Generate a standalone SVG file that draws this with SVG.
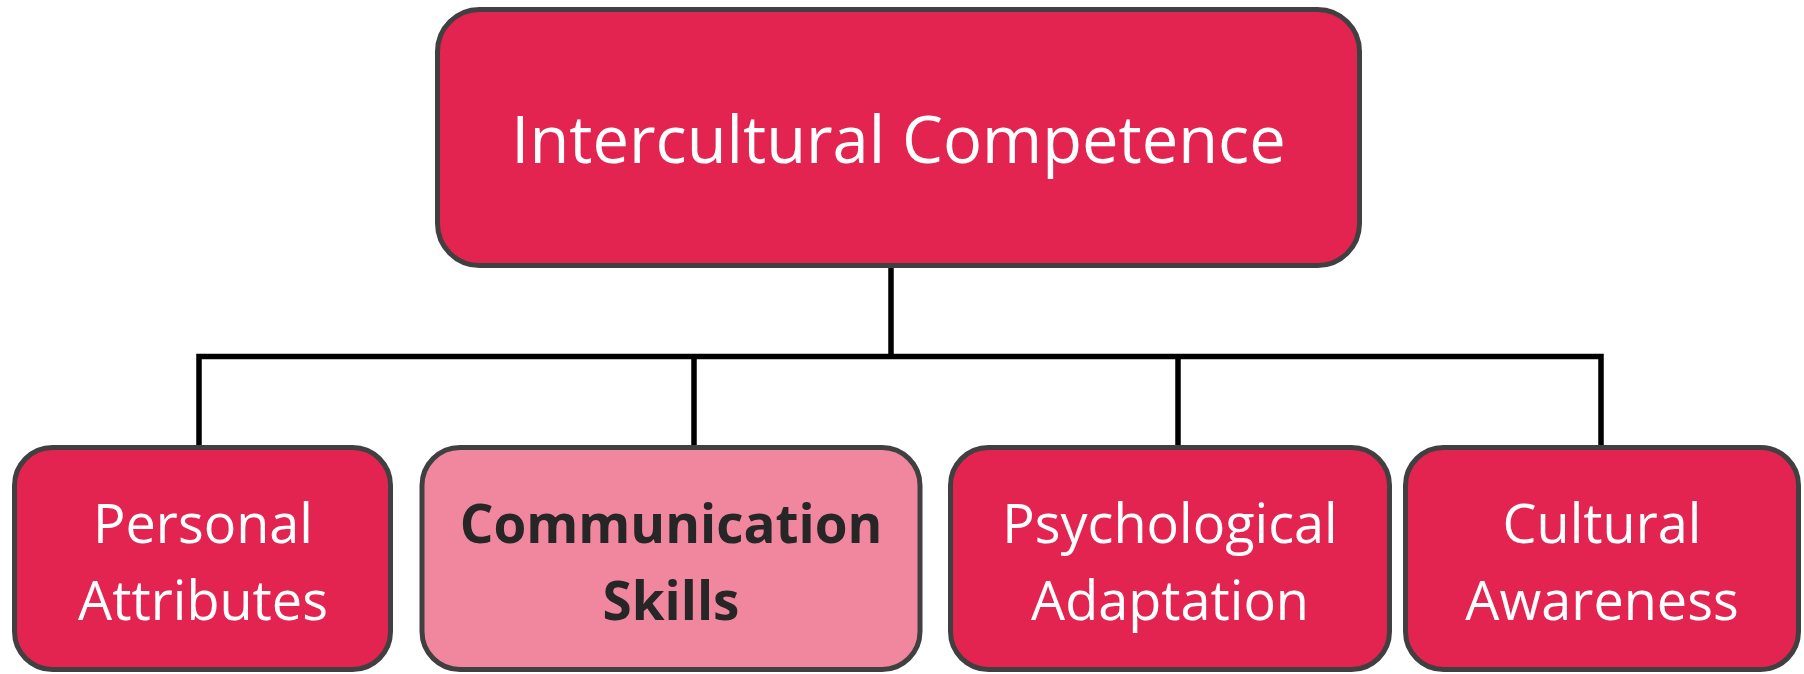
<svg xmlns="http://www.w3.org/2000/svg" width="1804" height="674" viewBox="0 0 1804 674">
<style>
.box{fill:#E32451;stroke:#404040;stroke-width:5}
.hl{fill:#F0879F;stroke:#404040;stroke-width:5}
.t{font-family:"Open Sans","Noto Sans","Liberation Sans",sans-serif;fill:#FFFFFF;text-anchor:middle}
.b{font-family:"Open Sans","Noto Sans","Liberation Sans",sans-serif;fill:#262626;font-weight:bold;text-anchor:middle}
.c{stroke:#000000;stroke-width:5.5;fill:none}
</style>
<rect width="1804" height="674" fill="#FFFFFF"/>
<g id="connectors">
<line class="c" x1="891" y1="266" x2="891" y2="356.5"/>
<polyline class="c" points="199,447 199,356.5 1601,356.5 1601,447"/>
<line class="c" x1="694" y1="356.5" x2="694" y2="447"/>
<line class="c" x1="1178" y1="356.5" x2="1178" y2="447"/>
</g>
<g id="root">
<rect class="box" x="437.5" y="9.5" width="922" height="256" rx="42"/>
<text class="t" x="898.5" y="163" font-size="65">Intercultural Competence</text>
</g>
<g id="personal">
<rect class="box" x="14.5" y="447.5" width="376" height="222" rx="38"/>
<text class="t" x="203" y="543" font-size="54">Personal</text>
<text class="t" x="203" y="620" font-size="54">Attributes</text>
</g>
<g id="communication">
<rect class="hl" x="422" y="447.5" width="498" height="222" rx="38"/>
<text class="b" x="671" y="543" font-size="53">Communication</text>
<text class="b" x="671" y="620" font-size="53">Skills</text>
</g>
<g id="psychological">
<rect class="box" x="950.5" y="447.5" width="439" height="222" rx="38"/>
<text class="t" x="1170" y="543" font-size="54">Psychological</text>
<text class="t" x="1170" y="620" font-size="54">Adaptation</text>
</g>
<g id="cultural">
<rect class="box" x="1405.5" y="447.5" width="393" height="222" rx="38"/>
<text class="t" x="1602" y="543" font-size="54">Cultural</text>
<text class="t" x="1602" y="620" font-size="54">Awareness</text>
</g>
</svg>
